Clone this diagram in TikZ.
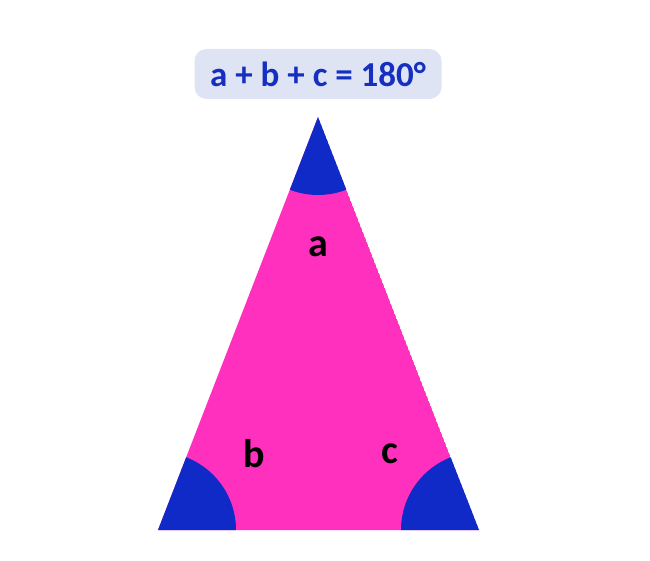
\documentclass[tikz,border=0pt]{standalone}
\usepackage{fontspec}
\setmainfont{Carlito}
\definecolor{triPink}{HTML}{FF30BE}
\definecolor{angBlue}{HTML}{0F2AC6}
\definecolor{boxFill}{HTML}{DFE4F5}
\definecolor{sumBlue}{HTML}{1530C0}
\tikzset{
  anglab/.style={font=\fontsize{40}{40}\selectfont\bfseries, text=black},
  sumbox/.style={fill=boxFill, rounded corners=12pt, minimum width=247pt,
    minimum height=50pt, inner sep=0pt, text=sumBlue,
    font=\fontsize{35}{35}\selectfont\bfseries}
}
\begin{document}
\begin{tikzpicture}[x=1pt,y=-1pt]
        \useasboundingbox (0,0) rectangle (650,561);
        \coordinate (apex) at (318,117);
        \coordinate (left) at (158,530);
        \coordinate (right) at (479,530);
        \begin{scope}
          \clip (apex) -- (left) -- (right) -- cycle;
          \fill [triPink] (apex) -- (left) -- (right) -- cycle; % Triangle body.
          \foreach \v in {apex,left,right}
            \fill [angBlue] (\v) circle (78pt); % Angle wedges.
        \end{scope}
        \node [sumbox] (sum) at (318,74) {a + b + c = 180°};
        \node [anglab] (angA) at (318,247) {a};
        \node [anglab] (angB) at (254,454) {b};
        \node [anglab] (angC) at (390,454) {c};
\end{tikzpicture}
\end{document}
